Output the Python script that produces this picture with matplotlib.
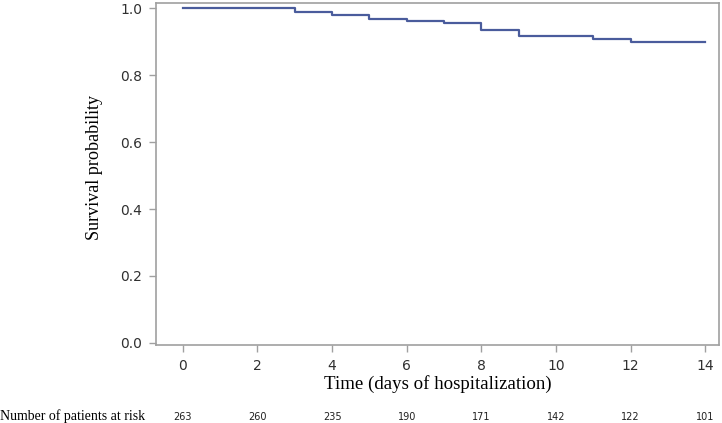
import matplotlib
matplotlib.use('Agg')
import matplotlib.pyplot as plt

# Kaplan-Meier steps (days, survival)
days = [0, 3, 4, 5, 6, 7, 8, 9, 11, 12, 14]
surv = [1.0, 0.987, 0.979, 0.966, 0.960, 0.954, 0.934, 0.916, 0.908, 0.900, 0.900]

risk_days = [0, 2, 4, 6, 8, 10, 12, 14]
at_risk = [263, 260, 235, 190, 171, 142, 122, 101]

yticks = [0.0, 0.2, 0.4, 0.6, 0.8, 1.0]

fig = plt.figure(figsize=(7.22, 4.23), dpi=100)
ax = fig.add_axes([156/722, 1-345/423, (719-156)/722, (345-3)/423])

ax.step(days, surv, where='post', color='#4a5c9c', lw=1.6)

ax.set_xlim(-0.72, 14.37)
ax.set_ylim(-0.006, 1.015)
ax.set_xticks(risk_days)
ax.set_yticks(yticks)
ax.set_yticklabels(['%.1f' % v for v in yticks])

for s in ax.spines.values():
    s.set_color('#a0a0a0')
    s.set_linewidth(1.2)
ax.tick_params(colors='#a0a0a0', length=5, width=1, labelcolor='#303030',
               labelsize=10, pad=5)
for lab in ax.get_xticklabels() + ax.get_yticklabels():
    lab.set_family('DejaVu Sans')

ax.set_xlabel('Time (days of hospitalization)', family='Liberation Serif',
              fontsize=13.6, labelpad=1.5)
ax.set_ylabel('Survival probability', family='Liberation Serif', fontsize=13.1)
ax.yaxis.set_label_coords(-0.094, 0.518)

# numbers at risk
for d, n in zip(risk_days, at_risk):
    ax.text(d, -0.22, str(n), ha='center', va='center', fontsize=7,
            color='#202020', transform=ax.transData, clip_on=False)
fig.text(0, 1-416/423, 'Number of patients at risk', family='Liberation Serif',
         fontsize=10, va='center', ha='left')

fig.savefig('out.png', dpi=100)
